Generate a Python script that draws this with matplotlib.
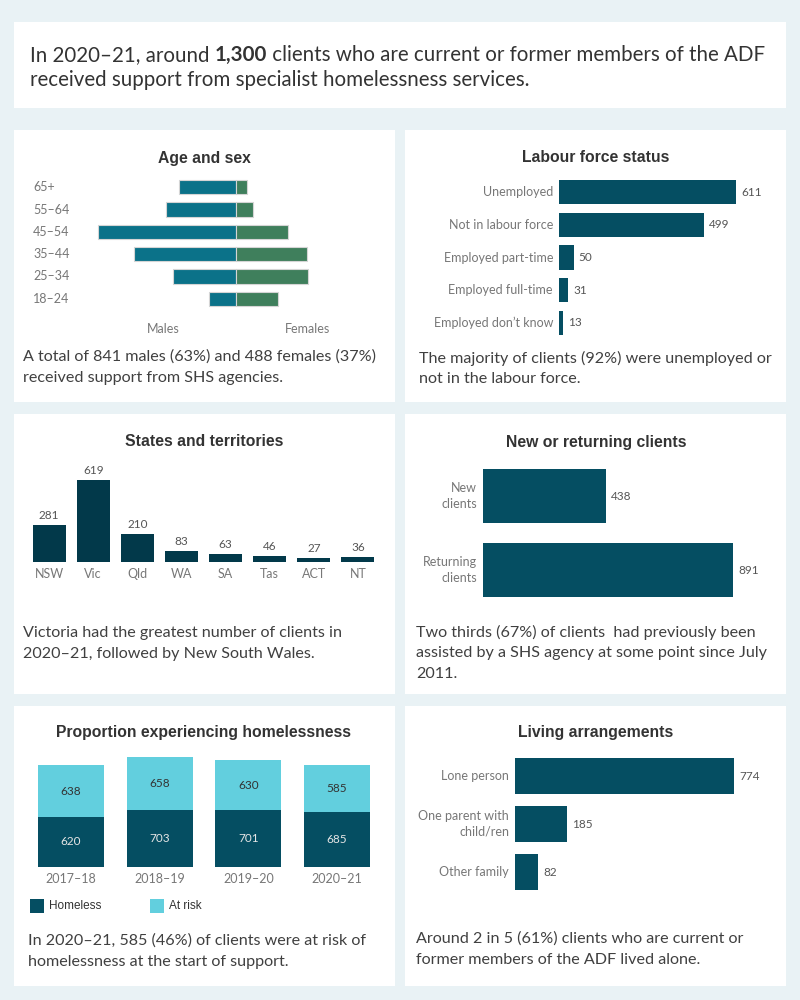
import matplotlib
matplotlib.use("Agg")
import matplotlib.pyplot as plt
from matplotlib.patches import Rectangle

W, H = 800, 1000

# ---- data ----
age_groups = ['65+', '55–64', '45–54', '35–44', '25–34', '18–24']
males = [105, 129, 254, 187, 116, 50]
females = [20, 31, 95, 131, 133, 78]

labour_cats = ['Unemployed', 'Not in labour force', 'Employed part-time',
               'Employed full-time', 'Employed don’t know']
labour_vals = [611, 499, 50, 31, 13]

states = ['NSW', 'Vic', 'Qld', 'WA', 'SA', 'Tas', 'ACT', 'NT']
state_vals = [281, 619, 210, 83, 63, 46, 27, 36]

client_cats = ['New\nclients', 'Returning\nclients']
client_vals = [438, 891]

years = ['2017–18', '2018–19', '2019–20', '2020–21']
homeless = [620, 703, 701, 685]
at_risk = [638, 658, 630, 585]

living_cats = ['Lone person', 'One parent with\nchild/ren', 'Other family']
living_vals = [774, 185, 82]

# ---- styling ----
BG = '#e9f2f5'
DARK = '#054e62'
DARKER = '#02394a'
LIGHT = '#62cfde'
MALE = '#0b7289'
FEMALE = '#3f7f5c'
BODY = '#404040'
TICK = '#777777'
TITLE = '#333333'
BODY_FONT = 'Lato'
TITLE_FONT = 'Liberation Sans'

fig = plt.figure(figsize=(8, 10), dpi=100)
fig.patch.set_facecolor(BG)


def fx(x):
    return x / W


def fy(y):
    return 1 - y / H


def ftext(x, y, s, **kw):
    return fig.text(fx(x), fy(y), s, **kw)


def panel(x0, y0, x1, y1):
    fig.patches.append(Rectangle((fx(x0), fy(y1)), (x1 - x0) / W, (y1 - y0) / H,
                                 transform=fig.transFigure, facecolor='white',
                                 edgecolor='none', zorder=-5))


def add_ax(x0, y0, x1, y1):
    ax = fig.add_axes([fx(x0), fy(y1), (x1 - x0) / W, (y1 - y0) / H])
    ax.set_axis_off()
    ax.patch.set_alpha(0)
    return ax


def title(x, y, s):
    ftext(x, y, s, ha='center', va='center', fontsize=11.3, fontweight='bold',
          family=TITLE_FONT, color=TITLE)


def body(x, y, lines, step=21):
    for k, line in enumerate(lines):
        ftext(x, y + k * step, line, ha='left', va='center', fontsize=11.6,
              family=BODY_FONT, color=BODY)


def hbars(ax, cats, vals, color, height, label_pad=6):
    pos = list(range(len(cats)))
    ax.barh(pos, vals, height=height, color=color)
    for i, (c, v) in enumerate(zip(cats, vals)):
        ax.annotate(c, (0, i), xytext=(-label_pad, 0), textcoords='offset pixels',
                    ha='right', va='center', multialignment='right',
                    fontsize=9, family=BODY_FONT, color=TICK, linespacing=1.35)
        ax.annotate(str(v), (v, i), xytext=(5, 0), textcoords='offset pixels',
                    ha='left', va='center', fontsize=8.5, family=BODY_FONT, color='#555555')


# panels
panel(14, 22, 786, 108)
for (x0, x1) in [(14, 395), (405, 786)]:
    for (y0, y1) in [(130, 402), (414, 694), (706, 986)]:
        panel(x0, y0, x1, y1)

# ---- headline with bold number ----
fig.canvas.draw()
renderer = fig.canvas.get_renderer()
parts = [('In 2020–21, around ', 'normal'), ('1,300', 'bold'),
         (' clients who are current or former members of the ADF', 'normal')]
xcur = 30
for s, w in parts:
    t = ftext(xcur, 55, s, ha='left', va='center', fontsize=14.8, family=BODY_FONT,
              fontweight=w, color=TITLE)
    xcur += t.get_window_extent(renderer).width
ftext(30, 80, 'received support from specialist homelessness services.', ha='left',
      va='center', fontsize=14.8, family=BODY_FONT, color=TITLE)

# ---- Age and sex ----
title(204, 158, 'Age and sex')
px_per = 0.5435
ax = add_ax(20, 176, 390, 310)
ax.set_xlim(-(236 - 20) / px_per, (390 - 236) / px_per)
ax.set_ylim(5.5, -0.5)
pos = list(range(len(age_groups)))
ax.barh(pos, [-m for m in males], height=0.63, color=MALE, edgecolor='#d5d5d5', lw=0.8)
ax.barh(pos, females, height=0.63, color=FEMALE, edgecolor='#d5d5d5', lw=0.8)
for i, g in enumerate(age_groups):
    ax.text((33 - 236) / px_per, i, g, ha='left', va='center', fontsize=9,
            family=BODY_FONT, color=TICK)
ftext(163, 329, 'Males', ha='center', va='center', fontsize=9, family=BODY_FONT, color=TICK)
ftext(308, 329, 'Females', ha='center', va='center', fontsize=9, family=BODY_FONT, color=TICK)
body(23, 357, ['A total of 841 males (63%) and 488 females (37%)',
               'received support from SHS agencies.'])

# ---- Labour force status ----
title(596, 157, 'Labour force status')
ax = add_ax(559, 176, 780, 339)
ax.set_xlim(0, (780 - 559) / 0.29)
ax.set_ylim(4.5, -0.5)
hbars(ax, labour_cats, labour_vals, DARK, 0.74)
body(419, 358, ['The majority of clients (92%) were unemployed or',
                'not in the labour force.'])

# ---- States and territories ----
title(204, 442, 'States and territories')
ax = add_ax(27, 470, 380, 562)
ax.set_xlim(-0.5, 7.5)
ax.set_ylim(0, (562 - 470) / 0.1325)
ax.bar(range(len(states)), state_vals, width=0.75, color=DARKER)
for i, (s, v) in enumerate(zip(states, state_vals)):
    ax.annotate(str(v), (i, v), xytext=(0, 4), textcoords='offset pixels', ha='center',
                va='bottom', fontsize=8.5, family=BODY_FONT, color='#555555')
    ax.annotate(s, (i, 0), xytext=(0, -6), textcoords='offset pixels', ha='center',
                va='top', fontsize=9, family=BODY_FONT, color=TICK)
body(23, 633, ['Victoria had the greatest number of clients in',
               '2020–21, followed by New South Wales.'])

# ---- New or returning clients ----
title(596, 442, 'New or returning clients')
ax = add_ax(483, 459, 780, 607)
ax.set_xlim(0, (780 - 483) / 0.281)
ax.set_ylim(1.5, -0.5)
hbars(ax, client_cats, client_vals, DARK, 0.74)
body(416, 632, ['Two thirds (67%) of clients  had previously been',
                'assisted by a SHS agency at some point since July',
                '2011.'])

# ---- Proportion experiencing homelessness ----
title(204, 733, 'Proportion experiencing homelessness')
ax = add_ax(26.7, 740, 381.3, 867)
ax.set_xlim(-0.5, 3.5)
ax.set_ylim(0, (867 - 740) / 0.0807)
xs = range(len(years))
ax.bar(xs, homeless, width=0.744, color=DARK)
ax.bar(xs, at_risk, bottom=homeless, width=0.744, color=LIGHT)
for i, (yr, h, r) in enumerate(zip(years, homeless, at_risk)):
    ax.text(i, h / 2, str(h), ha='center', va='center', fontsize=8.5,
            family=BODY_FONT, color='#e6e6e6')
    ax.text(i, h + r / 2, str(r), ha='center', va='center', fontsize=8.5,
            family=BODY_FONT, color='#333333')
    ax.annotate(yr, (i, 0), xytext=(0, -6), textcoords='offset pixels', ha='center',
                va='top', fontsize=9, family=BODY_FONT, color=TICK)
for x0, col, lab in [(30, DARK, 'Homeless'), (150, LIGHT, 'At risk')]:
    fig.patches.append(Rectangle((fx(x0), fy(913)), 14 / W, 14 / H,
                                 transform=fig.transFigure, facecolor=col,
                                 edgecolor='none', zorder=2))
    ftext(x0 + 19, 906, lab, ha='left', va='center', fontsize=8.5,
          family=TITLE_FONT, color='#333333')
body(28, 941, ['In 2020–21, 585 (46%) of clients were at risk of',
               'homelessness at the start of support.'])

# ---- Living arrangements ----
title(596, 733, 'Living arrangements')
ax = add_ax(515, 752, 780, 896)
ax.set_xlim(0, (780 - 515) / 0.283)
ax.set_ylim(2.5, -0.5)
hbars(ax, living_cats, living_vals, DARK, 0.75)
body(416, 939, ['Around 2 in 5 (61%) clients who are current or',
                'former members of the ADF lived alone.'])

fig.savefig('out.png', dpi=100, facecolor=BG)
